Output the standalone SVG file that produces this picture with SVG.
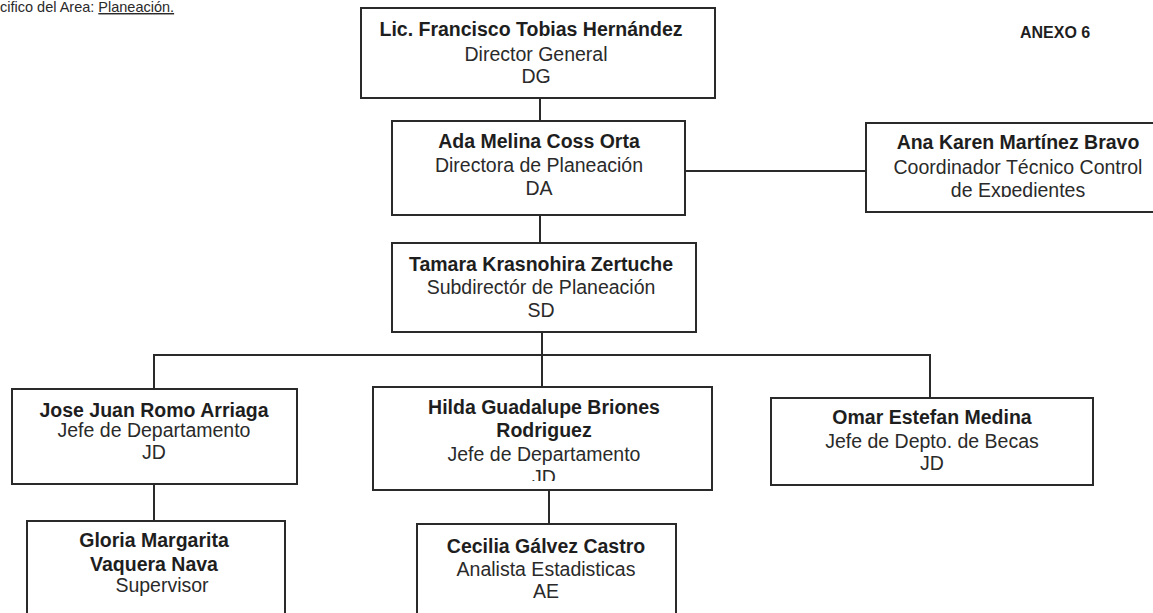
<svg xmlns="http://www.w3.org/2000/svg" width="1153" height="613" viewBox="0 0 1153 613">
<style>
.box{fill:#fff;stroke:#2a2a2a;stroke-width:2}
.c{stroke:#2a2a2a;stroke-width:2;fill:none}
text{font-family:"Liberation Sans",Arial,sans-serif;text-anchor:middle;fill:#1e1e1e}
.n{font-weight:bold;font-size:19.5px}
.r{font-size:19.5px;fill:#2a2a2a}
.hdr{font-size:14.5px;text-anchor:start;fill:#2a2a2a}
.ax{font-weight:bold;font-size:16px;text-anchor:start}
</style>
<defs>
<clipPath id="clipAna"><rect x="866" y="120" width="300" height="77"/></clipPath>
<clipPath id="clipHilda"><rect x="373" y="385" width="340" height="96"/></clipPath>
</defs>
<rect width="1153" height="613" fill="#fff"/>
<g id="header">
<text class="hdr" x="0" y="12">cifico del Area: <tspan style="text-decoration:underline">Planeación.</tspan></text>
<text class="ax" x="1020" y="38">ANEXO 6</text>
</g>
<g id="connectors">
<line class="c" x1="540" y1="98" x2="540" y2="121"/>
<line class="c" x1="540" y1="215" x2="540" y2="243"/>
<line class="c" x1="685" y1="171" x2="866" y2="171"/>
<line class="c" x1="542" y1="332" x2="542" y2="387"/>
<polyline class="c" points="154,389 154,355 930,355 930,398"/>
<line class="c" x1="154" y1="484" x2="154" y2="521"/>
<line class="c" x1="549" y1="490" x2="549" y2="524"/>
</g>
<g id="n_dg">
<rect class="box" x="361" y="8" width="354" height="90"/>
<text class="n" x="531" y="36">Lic. Francisco Tobias Hernández</text>
<text class="r" x="536" y="61">Director General</text>
<text class="r" x="536" y="83">DG</text>
</g>
<g id="n_da">
<rect class="box" x="392" y="121" width="293" height="94"/>
<text class="n" x="539" y="148">Ada Melina Coss Orta</text>
<text class="r" x="539" y="172">Directora de Planeación</text>
<text class="r" x="539" y="195">DA</text>
</g>
<g id="n_ana">
<rect class="box" x="866" y="123" width="310" height="89"/>
<text class="n" x="1018" y="149">Ana Karen Martínez Bravo</text>
<text class="r" x="1018" y="174">Coordinador Técnico Control</text>
<text class="r" x="1018" y="197" clip-path="url(#clipAna)">de Expedientes</text>
</g>
<g id="n_sd">
<rect class="box" x="392" y="243" width="304" height="89"/>
<text class="n" x="541" y="271">Tamara Krasnohira Zertuche</text>
<text class="r" x="541" y="294">Subdirectór de Planeación</text>
<text class="r" x="541" y="317">SD</text>
</g>
<g id="n_jose">
<rect class="box" x="12" y="389" width="285" height="95"/>
<text class="n" x="154" y="417">Jose Juan Romo Arriaga</text>
<text class="r" x="154" y="437">Jefe de Departamento</text>
<text class="r" x="154" y="459">JD</text>
</g>
<g id="n_hilda">
<rect class="box" x="373" y="387" width="339" height="103"/>
<text class="n" x="544" y="414">Hilda Guadalupe Briones</text>
<text class="n" x="544" y="437">Rodriguez</text>
<text class="r" x="544" y="461">Jefe de Departamento</text>
<text class="r" x="544" y="484" clip-path="url(#clipHilda)">JD</text>
</g>
<g id="n_omar">
<rect class="box" x="771" y="398" width="322" height="87"/>
<text class="n" x="932" y="424">Omar Estefan Medina</text>
<text class="r" x="932" y="448">Jefe de Depto. de Becas</text>
<text class="r" x="932" y="470">JD</text>
</g>
<g id="n_gloria">
<rect class="box" x="27" y="521" width="258" height="100"/>
<text class="n" x="154" y="547">Gloria Margarita</text>
<text class="n" x="154" y="571">Vaquera Nava</text>
<text class="r" x="162" y="592">Supervisor</text>
</g>
<g id="n_cecilia">
<rect class="box" x="417" y="524" width="259" height="100"/>
<text class="n" x="546" y="553">Cecilia Gálvez Castro</text>
<text class="r" x="546" y="576">Analista Estadisticas</text>
<text class="r" x="546" y="598">AE</text>
</g>
</svg>
